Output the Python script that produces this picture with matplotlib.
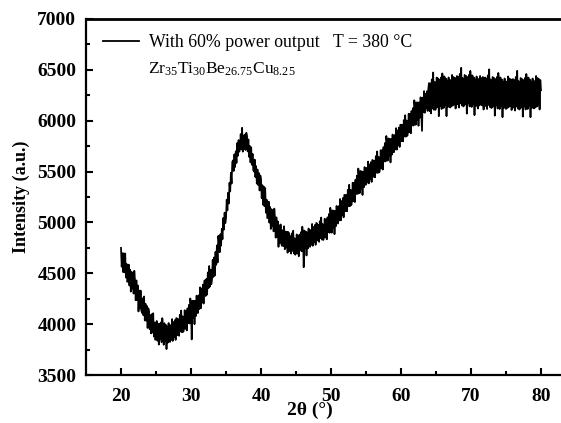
import matplotlib
matplotlib.use('Agg')
import matplotlib.pyplot as plt
import numpy as np

plt.rcParams['font.family'] = 'Liberation Serif'
plt.rcParams['mathtext.fontset'] = 'custom'
plt.rcParams['mathtext.rm'] = 'Liberation Serif'
plt.rcParams['mathtext.it'] = 'Liberation Serif:italic'

# 2theta from 20 to 80 in 0.1 deg steps (one row per degree), intensities
two_theta = np.linspace(20, 80, 601)
intensity = [
    4750, 4564, 4698, 4512, 4696, 4510, 4694, 4458, 4592, 4416,  # 20
    4430, 4585, 4380, 4535, 4320, 4515, 4350, 4505, 4300, 4525,
    4430, 4235, 4430, 4235, 4380, 4125, 4330, 4155, 4330, 4135,
    4110, 4254, 4088, 4272, 4036, 4200, 4034, 4178, 3962, 4156,
    4130, 3950, 4089, 3909, 4098, 3918, 4107, 3877, 4016, 3846,
    3865, 4031, 3837, 4003, 3799, 4005, 3851, 4017, 3823, 4059,  # 25
    3975, 3797, 4009, 3831, 3993, 3755, 3977, 3819, 4011, 3833,
    3825, 3990, 3845, 4050, 3835, 4020, 3875, 4040, 3845, 4060,
    4055, 3892, 4048, 3885, 4091, 3928, 4134, 3921, 4077, 3924,
    3960, 4137, 3954, 4131, 3938, 4155, 4012, 4189, 4006, 4253,
    4180, 3850, 4230, 4060, 4230, 4000, 4230, 4080, 4280, 4110,  # 30
    4110, 4284, 4148, 4362, 4156, 4350, 4214, 4388, 4202, 4426,
    4430, 4277, 4444, 4291, 4508, 4355, 4572, 4369, 4536, 4393,
    4440, 4632, 4464, 4656, 4478, 4710, 4582, 4774, 4606, 4868,
    4800, 4707, 4884, 4771, 4938, 4835, 5042, 4929, 5096, 4993,
    5040, 5224, 5118, 5292, 5186, 5390, 5304, 5488, 5382, 5596,  # 35
    5610, 5505, 5670, 5545, 5700, 5585, 5780, 5655, 5810, 5695,
    5730, 5869, 5718, 5930, 5696, 5855, 5724, 5863, 5712, 5881,
    5850, 5698, 5816, 5644, 5752, 5590, 5738, 5566, 5674, 5512,
    5500, 5618, 5446, 5554, 5382, 5520, 5368, 5486, 5314, 5462,
    5430, 5238, 5366, 5174, 5352, 5160, 5338, 5096, 5224, 5042,  # 40
    5050, 5204, 4998, 5152, 4936, 5130, 4964, 5118, 4912, 5136,
    5040, 4850, 5050, 4860, 5010, 4760, 4970, 4800, 4980, 4790,
    4770, 4924, 4768, 4962, 4736, 4910, 4754, 4908, 4702, 4906,
    4890, 4718, 4866, 4694, 4892, 4720, 4918, 4696, 4844, 4682,
    4710, 4882, 4694, 4866, 4668, 4880, 4732, 4904, 4716, 4958,  # 45
    4880, 4560, 4920, 4745, 4910, 4675, 4900, 4745, 4940, 4765,
    4760, 4925, 4780, 4985, 4770, 4955, 4810, 4975, 4780, 4995,
    4990, 4823, 4976, 4809, 5012, 4845, 5048, 4831, 4984, 4827,
    4860, 5036, 4852, 5028, 4834, 5050, 4906, 5082, 4898, 5144,
    5070, 4899, 5118, 4947, 5116, 4885, 5114, 4963, 5162, 4991,  # 50
    4990, 5160, 5020, 5230, 5020, 5210, 5070, 5240, 5050, 5270,
    5270, 5110, 5270, 5110, 5320, 5160, 5370, 5160, 5320, 5170,
    5210, 5390, 5210, 5390, 5200, 5420, 5280, 5460, 5280, 5530,
    5460, 5288, 5506, 5334, 5502, 5270, 5498, 5346, 5544, 5372,
    5370, 5536, 5392, 5598, 5384, 5570, 5426, 5592, 5398, 5614,  # 55
    5610, 5448, 5606, 5444, 5652, 5490, 5698, 5486, 5644, 5492,
    5530, 5710, 5530, 5710, 5520, 5740, 5600, 5780, 5600, 5850,
    5780, 5608, 5826, 5654, 5822, 5590, 5818, 5666, 5864, 5692,
    5690, 5859, 5718, 5927, 5716, 5905, 5764, 5933, 5742, 5961,
    5960, 5799, 5958, 5797, 6006, 5845, 6054, 5843, 6002, 5851,  # 60
    5890, 6069, 5888, 6067, 5876, 6095, 5954, 6123, 5952, 6201,
    6130, 5960, 6180, 6010, 6180, 5950, 6180, 6030, 6230, 6060,
    5900, 6227, 6084, 6291, 6078, 6265, 6122, 6289, 6096, 6313,
    6370, 6094, 6368, 6072, 6406, 6120, 6474, 6108, 6382, 6106,
    6125, 6425, 6135, 6415, 6045, 6405, 6145, 6425, 6115, 6465,  # 65
    6405, 6125, 6435, 6155, 6415, 6045, 6395, 6135, 6425, 6145,
    6130, 6400, 6140, 6450, 6150, 6430, 6160, 6420, 6120, 6410,
    6440, 6160, 6430, 6130, 6460, 6170, 6520, 6150, 6420, 6140,
    6150, 6450, 6160, 6440, 6070, 6430, 6170, 6450, 6140, 6490,
    6415, 6135, 6445, 6165, 6425, 6055, 6405, 6145, 6435, 6155,  # 70
    6120, 6410, 6150, 6440, 6160, 6420, 6150, 6430, 6110, 6400,
    6425, 6145, 6415, 6115, 6445, 6155, 6505, 6135, 6405, 6125,
    6130, 6430, 6140, 6420, 6050, 6410, 6150, 6430, 6120, 6470,
    6395, 6115, 6425, 6145, 6405, 6035, 6385, 6125, 6415, 6135,
    6115, 6385, 6125, 6435, 6135, 6415, 6145, 6405, 6105, 6395,  # 75
    6410, 6130, 6400, 6100, 6430, 6140, 6490, 6120, 6390, 6110,
    6120, 6420, 6130, 6410, 6040, 6400, 6140, 6420, 6110, 6460,
    6395, 6115, 6425, 6145, 6405, 6035, 6385, 6125, 6415, 6135,
    6120, 6390, 6130, 6440, 6140, 6420, 6150, 6410, 6110, 6400,
    6300,  # 80
]

fig = plt.figure(figsize=(5.61, 4.23), dpi=100)
ax = fig.add_axes([86/561, 48/423, 490/561, 356/423])

ax.plot(two_theta, intensity, color='black', lw=1.25,
        label='With 60% power output   T = 380 °C')

ax.set_xlim(15, 85)
ax.set_ylim(3500, 7000)
ax.set_xticks([20, 30, 40, 50, 60, 70, 80])
ax.set_xticks(np.arange(25, 85, 10), minor=True)
ax.set_yticks(np.arange(3500, 7001, 500))
ax.set_yticks(np.arange(3750, 7000, 500), minor=True)
ax.tick_params(which='both', direction='in', width=1.5, top=False, right=False,
               labelsize=14)
ax.tick_params(which='major', length=5)
ax.tick_params(which='minor', length=3)
ax.tick_params(axis='y', pad=7)
ax.tick_params(axis='x', pad=9)
for lab in ax.get_xticklabels() + ax.get_yticklabels():
    lab.set_fontweight('bold')
for s in ax.spines.values():
    s.set_linewidth(1.6)
ax.spines['top'].set_linewidth(2.0)

ax.set_xlabel('2θ (°)', fontsize=14, fontweight='bold')
ax.xaxis.set_label_coords(0.457, -0.075)
ax.set_ylabel('Intensity (a.u.)', fontsize=13, fontweight='bold')
ax.yaxis.set_label_coords(-0.114, 0.5)

leg = ax.legend(loc='center left', bbox_to_anchor=(0.035, 0.933), frameon=False,
                fontsize=12.8, borderpad=0, borderaxespad=0, handlelength=2.0,
                handletextpad=0.6)
for h in leg.get_lines():
    h.set_linewidth(1.3)
ax.text(0.127, 0.858, r'Zr$_{35}$Ti$_{30}$Be$_{26.75}$Cu$_{8.25}$',
        transform=ax.transAxes, fontsize=12.5, va='center')

fig.savefig('out.png', dpi=100)
